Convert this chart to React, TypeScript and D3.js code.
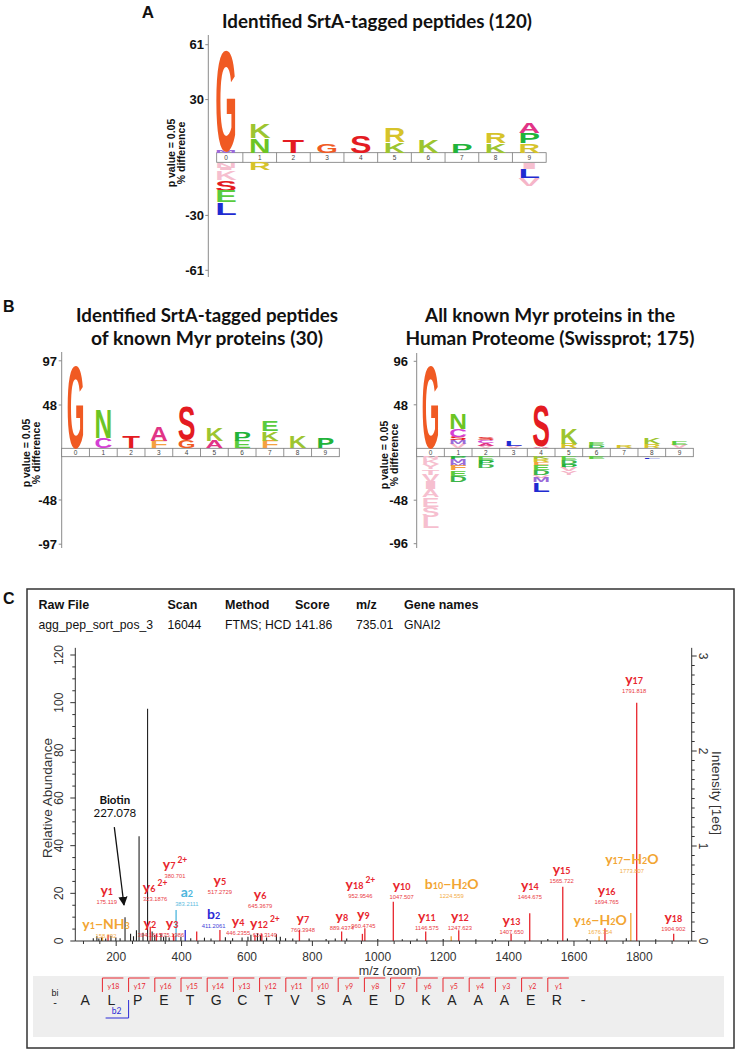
import React from 'react';
import * as d3 from 'd3';

const ARIAL = "'Liberation Sans', Arial, Helvetica, sans-serif";
const CAL = "Lato, 'Open Sans', sans-serif";

// ---------------- residue colours ----------------
const residueColor: Record<string, string> = {
  G: '#F05A23', S: '#E41B22', T: '#E41B22', N: '#6CC524', C: '#D43FD4',
  A: '#E13486', F: '#F4A040', K: '#9DC530', P: '#21B33A', E: '#5ACB3E',
  R: '#D6C32A', L: '#1F2BD1', V: '#F5B5C8', I: '#C9A7B4', M: '#9A6AD8',
  D: '#3DB54A', Y: '#F5B5C8',
};
const FAINT = '#F6BFCF';

type Entry = [string, number, boolean?];

// ---------------- Panel A data ----------------
const positions = [0, 1, 2, 3, 4, 5, 6, 7, 8, 9];
const titleA = ['Identified SrtA-tagged peptides (120)'];
const ticksA = [61, 30, -30, -61];
const logoAUp: Entry[][] = [
  [['M', 1.1], ['G', 58]],
  [['N', 8.2], ['K', 8.4]],
  [['T', 7.2]],
  [['G', 5.5]],
  [['S', 10]],
  [['K', 6], ['R', 8]],
  [['K', 7.2]],
  [['P', 5.5]],
  [['K', 5.5], ['R', 5.6]],
  [['R', 5.5], ['P', 5.6], ['A', 6.2]],
];
const logoADown: Entry[][] = [
  [['N', 3, true], ['I', 1.5, true], ['K', 5.5, true], ['S', 6.2], ['E', 6.5], ['L', 7]],
  [['R', 4.5]],
  [], [], [], [], [], [], [],
  [['I', 4, true], ['L', 5], ['V', 4.6]],
];

// ---------------- Panel B (left) data ----------------
const titleB1 = ['Identified SrtA-tagged peptides', 'of known Myr proteins (30)'];
const ticksB1 = [97, 48, -48, -97];
const logoB1Up: Entry[][] = [
  [['G', 92.3]],
  [['C', 11.8], ['N', 31.8]],
  [['T', 13.6]],
  [['F', 8.4], ['A', 15.5]],
  [['G', 9.2], ['S', 38.8]],
  [['A', 8.4], ['K', 14.1]],
  [['E', 8.4], ['P', 10]],
  [['F', 8.4], ['K', 10.8], ['E', 12.2]],
  [['K', 12.9]],
  [['P', 11.4]],
];
const logoB1Down: Entry[][] = [[], [], [], [], [], [], [], [], [], []];

// ---------------- Panel B (right) data ----------------
const titleB2 = ['All known Myr proteins in the', 'Human Proteome (Swissprot; 175)'];
const ticksB2 = [96, 48, -48, -96];
const logoB2Up: Entry[][] = [
  [['G', 92]],
  [['V', 5], ['M', 4], ['S', 4], ['C', 8.3], ['N', 17.3]],
  [['V', 3], ['A', 3], ['C', 2.7], ['S', 3]],
  [['V', 3], ['L', 5]],
  [['A', 2], ['S', 46]],
  [['R', 5], ['K', 17]],
  [['D', 3.3], ['E', 3.3]],
  [['R', 2.2]],
  [['R', 4.2], ['K', 7.5]],
  [['V', 3.5], ['E', 4]],
];
const logoB2Down: Entry[][] = [
  [['N', 3, true], ['K', 5, true], ['Y', 6, true], ['T', 6, true], ['V', 8, true], ['I', 8, true], ['A', 9, true], ['E', 10, true], ['S', 11, true], ['L', 13, true]],
  [['P', 3], ['M', 4], ['M', 3], ['F', 5], ['E', 6], ['D', 6.6]],
  [['E', 4], ['P', 4], ['D', 4]],
  [],
  [['K', 3], ['R', 3], ['F', 4], ['E', 5], ['D', 5], ['V', 3], ['M', 5], ['L', 10.6]],
  [['E', 4], ['D', 4], ['P', 4], ['V', 4], ['Y', 4]],
  [['E', 2.5]],
  [],
  [['L', 2]],
  [],
];

// ---------------- Panel C data ----------------
const headerLabels = ['Raw File', 'Scan', 'Method', 'Score', 'm/z', 'Gene names'];
const headerValues = ['agg_pep_sort_pos_3', '16044', 'FTMS; HCD', '141.86', '735.01', 'GNAI2'];

const ionNames = ['y1', 'y1-NH3', 'y2', 'y3', 'y4', 'y5', 'y6', 'y7', 'y8', 'y9', 'y10', 'y11', 'y12', 'y13', 'y14', 'y15', 'y16', 'y17', 'y18', 'y6^2+', 'y7^2+', 'y12^2+', 'y18^2+', 'b2', 'a2', 'b10-H2O', 'y16-H2O', 'y17-H2O'];
const ionMz = [175.119, 158.092, 304.1615, 375.1986, 446.2355, 517.2729, 645.3679, 760.3948, 889.4374, 960.4745, 1047.507, 1146.575, 1247.623, 1407.65, 1464.675, 1565.722, 1694.765, 1791.818, 1904.902, 323.1876, 380.701, 624.3149, 952.9546, 411.2061, 383.2111, 1224.559, 1676.754, 1773.807];
const ionMzText = ['175.119', '158.092', '304.1615', '375.1986', '446.2355', '517.2729', '645.3679', '760.3948', '889.4374', '960.4745', '1047.507', '1146.575', '1247.623', '1407.650', '1464.675', '1565.722', '1694.765', '1791.818', '1904.902', '323.1876', '380.701', '624.3149', '952.9546', '411.2061', '383.2111', '1224.559', '1676.754', '1773.807'];
const ionAbundance = [2.5, 1.5, 6, 3, 4, 4.6, 3, 4.6, 4, 5.4, 16.5, 4, 4.5, 3, 11.6, 22.8, 5.4, 100, 3, 3, 2, 2.5, 3, 4.6, 13, 2, 2, 11.7];
const ionLabelMz = [171, 169, 303, 371, 573, 517, 640, 771, 890, 956, 1073, 1150, 1251, 1409, 1465, 1562, 1700, 1784, 1904, 319, 380, 655, 947, 498, 416, 1226, 1680, 1777];
const ionLabelAt = [20.1, 5.9, 6.5, 6.5, 7.1, 24.3, 18.6, 8.4, 9.4, 10.1, 22.1, 9.2, 9.2, 7.6, 22.1, 29.1, 20, 108.7, 8.8, 21.4, 31.2, 6.3, 22.5, 10.2, 19.3, 22.5, 7.4, 33.3];

const otherMz = [130, 141, 147, 155, 168, 184, 199, 212, 227.078, 244, 253, 262, 270, 282, 296, 310, 318, 337, 345, 352, 362, 398, 428, 470, 490, 534, 556, 585, 603, 612, 632, 641, 660, 690, 702, 718, 740, 790, 842, 870, 905, 1000, 1075, 1120, 1200, 1300, 1360, 1520, 1580, 1640, 1760, 1850];
const otherAbundance = [1.2, 2.0, 1.0, 1.5, 1.0, 2.2, 1.5, 1.2, 10, 3.0, 2.0, 4.5, 44, 3.5, 97.5, 4.0, 2.5, 3.0, 1.8, 2.2, 1.5, 1.8, 1.2, 1.4, 1.0, 1.6, 1.2, 1.5, 1.8, 2.6, 3.2, 2.4, 1.5, 2.8, 1.8, 1.2, 1.0, 1.0, 0.8, 1.0, 1.1, 0.8, 0.7, 0.9, 0.8, 0.7, 0.8, 0.8, 1.0, 0.8, 1.2, 0.7];

const sequence = ['A', 'L', 'P', 'E', 'T', 'G', 'C', 'T', 'V', 'S', 'A', 'E', 'D', 'K', 'A', 'A', 'A', 'E', 'R'];
const bIonsSeen = [2];

const xTickLabels = [200, 400, 600, 800, 1000, 1200, 1400, 1600, 1800];
const yTickLabels = [0, 20, 40, 60, 80, 100, 120];
const intensityTickLabels = [0, 1, 2, 3];

// ---------------- helpers ----------------
function Glyph({ ch, cx, w, top, bottom, fill }: { ch: string; cx: number; w: number; top: number; bottom: number; fill: string }) {
  const h = bottom - top;
  if (h < 0.3) return null;
  const fs = h / 0.716;
  return (
    <text x={cx - w / 2} y={bottom} fontSize={fs} fontFamily={ARIAL} fontWeight={700} textLength={w}
      lengthAdjust="spacingAndGlyphs" fill={fill}>
      {ch}
    </text>
  );
}

interface LogoProps {
  titles: string[];
  titleX: number;
  titleY: number;
  titleLens: number[];
  ticks: number[];
  up: Entry[][];
  down: Entry[][];
  maxVal: number;
  bandStart: number;
  bandEnd: number;
  boxLeft: number;
  boxTop: number;
  boxBottom: number;
  pxTop: number;
  pxBottom: number;
  axisX: number;
  axisTop: number;
  axisBottom: number;
  tickLabelX: number;
  pl1: number;
  pl2: number;
  plY: number;
}

function LogoPanel(p: LogoProps) {
  const x = d3.scaleBand<number>().domain(positions).range([p.bandStart, p.bandEnd]);
  const yUp = d3.scaleLinear().domain([0, p.maxVal]).range([p.boxTop, p.pxTop]);
  const yDn = d3.scaleLinear().domain([0, -p.maxVal]).range([p.boxBottom, p.pxBottom]);
  const bw = x.bandwidth();
  const lw = bw * 0.64;
  const glyphs: React.ReactNode[] = [];
  positions.forEach((pos, i) => {
    const cx = (x(pos) as number) + bw / 2;
    let cum = 0;
    p.up[i].forEach(([res, v, faint], j) => {
      const b = yUp(cum);
      const t = yUp(cum + v);
      cum += v;
      glyphs.push(<Glyph key={`u${i}-${j}`} ch={res} cx={cx} w={lw} top={t} bottom={b} fill={faint ? FAINT : residueColor[res]} />);
    });
    cum = 0;
    p.down[i].forEach(([res, v, faint], j) => {
      const t = yDn(-cum);
      const b = yDn(-(cum + v));
      cum += v;
      glyphs.push(<Glyph key={`d${i}-${j}`} ch={res} cx={cx} w={lw} top={t} bottom={b} fill={faint ? FAINT : residueColor[res]} />);
    });
  });
  const tickY = (t: number) => (t >= 0 ? yUp(t) : yDn(t));
  return (
    <g>
      {p.titles.map((t, i) => (
        <text key={t} x={p.titleX} y={p.titleY + i * 23} textAnchor="middle" fontFamily={CAL} fontWeight={700} fontSize={18}
          textLength={p.titleLens[i]} lengthAdjust="spacingAndGlyphs" fill="#111">{t}</text>
      ))}
      <line x1={p.axisX} x2={p.axisX} y1={p.axisTop} y2={p.axisBottom} stroke="#8a8a8a" strokeWidth={1} />
      {p.ticks.map((t) => (
        <g key={t}>
          <line x1={p.axisX - 3} x2={p.axisX} y1={tickY(t)} y2={tickY(t)} stroke="#8a8a8a" />
          <text x={p.tickLabelX} y={tickY(t) + 4.7} textAnchor="end" fontFamily={ARIAL} fontWeight={700} fontSize={13} fill="#111">{t}</text>
        </g>
      ))}
      <text transform={`translate(${p.pl1},${p.plY}) rotate(-90)`} textAnchor="middle" fontFamily={ARIAL} fontWeight={700} fontSize={10.5} fill="#111">p value = 0.05</text>
      <text transform={`translate(${p.pl2},${p.plY}) rotate(-90)`} textAnchor="middle" fontFamily={ARIAL} fontWeight={700} fontSize={10.5} fill="#111">% difference</text>
      <rect x={p.boxLeft} y={p.boxTop} width={p.bandEnd - p.boxLeft} height={p.boxBottom - p.boxTop} fill="#fff" stroke="#777" strokeWidth={0.8} />
      {positions.slice(1).map((pos) => (
        <line key={pos} x1={x(pos)} x2={x(pos)} y1={p.boxTop} y2={p.boxBottom} stroke="#777" strokeWidth={0.8} />
      ))}
      {glyphs}
      {positions.map((pos) => (
        <text key={pos} x={(x(pos) as number) + bw / 2} y={(p.boxTop + p.boxBottom) / 2 + 2.4} textAnchor="middle" fontFamily={ARIAL} fontSize={6.5} fill="#444">{pos}</text>
      ))}
    </g>
  );
}

function ionColor(name: string) {
  if (name.includes('-')) return '#F2A532';
  if (name[0] === 'b') return '#2B2BD6';
  if (name[0] === 'a') return '#4DB6DD';
  return '#E8262E';
}

function IonLabel({ name, mzText, x, y, color }: { name: string; mzText: string; x: number; y: number; color: string }) {
  const m = name.match(/^([aby])(\d+)(?:\^(\d\+))?(?:-(NH3|H2O))?$/);
  if (!m) return null;
  const [, letter, num, charge, loss] = m;
  return (
    <g>
      <text x={x} y={y + 2} textAnchor="middle" fontFamily={CAL} fontWeight={700} fill={color}>
        <tspan fontSize={14}>{letter}</tspan>
        <tspan fontSize={9}>{num}</tspan>
        {charge && <tspan fontSize={8.5} dx={2} dy={-6}>{charge}</tspan>}
        {loss === 'NH3' && (<><tspan fontSize={14}>−NH</tspan><tspan fontSize={9}>3</tspan></>)}
        {loss === 'H2O' && (<><tspan fontSize={14}>−H</tspan><tspan fontSize={9}>2</tspan><tspan fontSize={14}>O</tspan></>)}
      </text>
      <text x={x} y={y + 11} textAnchor="middle" fontFamily={ARIAL} fontSize={5.8} fill={color} opacity={0.9}>{mzText}</text>
    </g>
  );
}

function Spectrum() {
  const xMz = d3.scaleLinear().domain([75, 1960]).range([75.3, 691.7]);
  const yRel = d3.scaleLinear().domain([0, 120]).range([941, 655]);
  const yInt = d3.scaleLinear().domain([0, 3]).range([941, 656]);
  const axL = xMz.range()[0];
  const axR = xMz.range()[1];
  const yTop = yRel(123);
  const minorY = d3.range(0, 121, 5);
  const minorI = d3.range(0, 3.001, 0.1);
  const minorX = d3.range(100, 1951, 50);
  const seqStep = 26.2;
  const seqStart = (k: number) => 76.2 + seqStep * k;
  const headerX = [38.5, 167.5, 225, 295, 356, 404];

  return (
    <g>
      <rect x={27} y={589} width={707} height={459} fill="none" stroke="#333" strokeWidth={1.5} />
      {headerLabels.map((h, i) => (
        <text key={h} x={headerX[i]} y={609} fontFamily={ARIAL} fontWeight={700} fontSize={12.5} fill="#111">{h}</text>
      ))}
      {headerValues.map((h, i) => (
        <text key={h} x={headerX[i]} y={629} fontFamily={ARIAL} fontSize={12.2} fill="#111">{h}</text>
      ))}

      {/* peaks */}
      {otherMz.map((mz, i) => (
        <line key={`o${i}`} x1={xMz(mz)} x2={xMz(mz)} y1={yRel(0)} y2={yRel(otherAbundance[i])} stroke="#222" strokeWidth={1.1} />
      ))}
      {ionMz.map((mz, i) => (
        <line key={`p${i}`} x1={xMz(mz)} x2={xMz(mz)} y1={yRel(0)} y2={yRel(ionAbundance[i])} stroke={ionColor(ionNames[i])} strokeWidth={1.3} />
      ))}

      {/* left axis */}
      <line x1={axL} x2={axL} y1={yRel(0)} y2={yTop} stroke="#333" />
      {minorY.map((v) => (
        <line key={v} x1={axL - (v % 20 === 0 ? 5 : 3)} x2={axL} y1={yRel(v)} y2={yRel(v)} stroke="#333" />
      ))}
      {yTickLabels.map((v) => (
        <text key={v} transform={`translate(${63},${yRel(v)}) rotate(-90)`} textAnchor="middle" fontFamily={ARIAL} fontSize={12} fill="#333">{v}</text>
      ))}
      <text transform={`translate(${52},${798}) rotate(-90)`} textAnchor="middle" fontFamily={ARIAL} fontSize={13.5} fill="#333">Relative Abundance</text>

      {/* right axis */}
      <line x1={axR} x2={axR} y1={yInt(0)} y2={yTop} stroke="#333" />
      {minorI.map((v, i) => (
        <line key={i} x1={axR} x2={axR + (i % 10 === 0 ? 5 : 3)} y1={yInt(v)} y2={yInt(v)} stroke="#333" />
      ))}
      {intensityTickLabels.map((v) => (
        <text key={v} transform={`translate(${699},${yInt(v)}) rotate(90)`} textAnchor="middle" fontFamily={ARIAL} fontSize={12} fill="#333">{v}</text>
      ))}
      <text transform={`translate(${712},${793}) rotate(90)`} textAnchor="middle" fontFamily={ARIAL} fontSize={13.5} fill="#333">Intensity [1e6]</text>

      {/* x axis */}
      <line x1={axL} x2={axR} y1={yRel(0)} y2={yRel(0)} stroke="#333" />
      {minorX.map((v) => (
        <line key={v} x1={xMz(v)} x2={xMz(v)} y1={yRel(0)} y2={yRel(0) + (v % 200 === 0 ? 5 : 3)} stroke="#333" />
      ))}
      {xTickLabels.map((v) => (
        <text key={v} x={xMz(v)} y={960.5} textAnchor="middle" fontFamily={ARIAL} fontSize={12} fill="#333">{v}</text>
      ))}
      <text x={390} y={975} textAnchor="middle" fontFamily={ARIAL} fontSize={12.5} fill="#333">m/z (zoom)</text>

      {/* ion labels */}
      {ionNames.map((n, i) => (
        <IonLabel key={n} name={n} mzText={ionMzText[i]} x={xMz(ionLabelMz[i])} y={yRel(ionLabelAt[i])} color={ionColor(n)} />
      ))}

      {/* biotin annotation */}
      <defs>
        <marker id="arrowhead" viewBox="0 0 10 10" refX="9" refY="5" markerWidth="7" markerHeight="7" orient="auto-start-reverse">
          <path d="M0,0 L10,5 L0,10 z" fill="#111" />
        </marker>
      </defs>
      <text x={xMz(196)} y={yRel(59.2) + 4} textAnchor="middle" fontFamily={CAL} fontWeight={700} fontSize={11.5} fill="#111">Biotin</text>
      <text x={xMz(196)} y={yRel(53.7) + 4} textAnchor="middle" fontFamily={CAL} fontSize={11.5} fill="#111">227.078</text>
      <line x1={xMz(194.3)} y1={yRel(47.8)} x2={xMz(223.9)} y2={yRel(15.1)} stroke="#111" strokeWidth={1.3} markerEnd="url(#arrowhead)" />

      {/* sequence band */}
      <rect x={33} y={976} width={691} height={61} fill="#EEEEEE" />
      <text x={55} y={996} textAnchor="middle" fontFamily={ARIAL} fontSize={9} fill="#222">bi</text>
      <text x={55} y={1006} textAnchor="middle" fontFamily={ARIAL} fontSize={11} fill="#222">-</text>
      {sequence.map((s, k) => (
        <text key={k} x={seqStart(k) + 9} y={1005} textAnchor="middle" fontFamily={ARIAL} fontSize={14} fill="#222">{s}</text>
      ))}
      <text x={seqStart(sequence.length) + 9} y={1005} textAnchor="middle" fontFamily={ARIAL} fontSize={14} fill="#222">-</text>
      {sequence.slice(1).map((_, j) => {
        const k = j + 1;
        const s = seqStart(k);
        return (
          <g key={`yb${k}`}>
            <path d={`M${s},992 V978 H${s + 21}`} fill="none" stroke="#E8262E" strokeWidth={1} />
            <text x={s + 11} y={988.5} textAnchor="middle" fontFamily={CAL} fontSize={7} fill="#E8262E">{`y${sequence.length - k}`}</text>
          </g>
        );
      })}
      {bIonsSeen.map((b) => {
        const s = seqStart(b);
        return (
          <g key={`b${b}`}>
            <path d={`M${s},1000 V1018 H${s - 23}`} fill="none" stroke="#2B2BD6" strokeWidth={1} />
            <text x={s - 12} y={1014} textAnchor="middle" fontFamily={CAL} fontSize={8.5} fill="#2B2BD6">{`b${b}`}</text>
          </g>
        );
      })}
    </g>
  );
}

export default function App() {
  return (
    <svg width={736} height={1050} viewBox="0 0 736 1050" style={{ position: 'absolute', left: 0, top: 0, background: '#fff' }}>
      <rect x={0} y={0} width={736} height={1050} fill="#fff" />
      <text x={154} y={18} textAnchor="end" fontFamily={ARIAL} fontWeight={700} fontSize={17} fill="#111">A</text>
      <text x={3} y={312} fontFamily={ARIAL} fontWeight={700} fontSize={16} fill="#111">B</text>
      <text x={3} y={604} fontFamily={ARIAL} fontWeight={700} fontSize={16} fill="#111">C</text>

      <LogoPanel titles={titleA} titleX={377} titleY={28} titleLens={[310]} ticks={ticksA} up={logoAUp} down={logoADown}
        maxVal={61} bandStart={209.15} bandEnd={546.15} boxLeft={216.7} boxTop={152.7} boxBottom={162.3}
        pxTop={44.7} pxBottom={270.3} axisX={208.3} axisTop={35} axisBottom={277} tickLabelX={204} pl1={175} pl2={185} plY={153} />

      <LogoPanel titles={titleB1} titleX={207} titleY={322} titleLens={[262, 232]} ticks={ticksB1} up={logoB1Up} down={logoB1Down}
        maxVal={97} bandStart={61.7} bandEnd={339.3} boxLeft={61.7} boxTop={448.3} boxBottom={456.7}
        pxTop={360.8} pxBottom={544.2} axisX={61.7} axisTop={352} axisBottom={548} tickLabelX={57} pl1={30} pl2={40} plY={453} />

      <LogoPanel titles={titleB2} titleX={550} titleY={322} titleLens={[250, 289]} ticks={ticksB2} up={logoB2Up} down={logoB2Down}
        maxVal={96} bandStart={416.7} bandEnd={693.3} boxLeft={416.7} boxTop={448.3} boxBottom={456.7}
        pxTop={361.3} pxBottom={543.7} axisX={416.7} axisTop={353} axisBottom={548} tickLabelX={408} pl1={388} pl2={398} plY={455} />

      <Spectrum />
    </svg>
  );
}
